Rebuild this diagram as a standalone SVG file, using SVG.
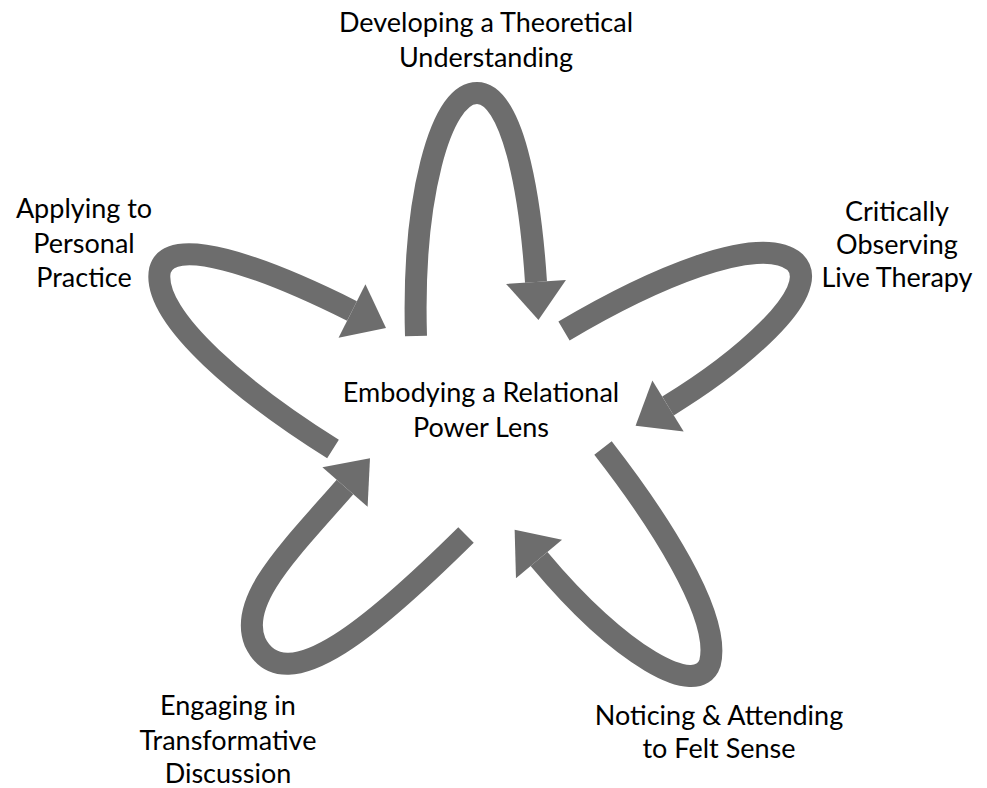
<svg xmlns="http://www.w3.org/2000/svg" width="987" height="788" viewBox="0 0 987 788">
<style>
.lbl{font-family:Lato,"Open Sans","Liberation Sans",sans-serif;font-size:27px;fill:#000;text-anchor:middle}
.loop{fill:none;stroke:#6d6d6d;stroke-width:22;stroke-linecap:butt;marker-end:url(#ah)}
</style>
<defs>
<marker id="ah" markerUnits="userSpaceOnUse" markerWidth="40" markerHeight="62" refX="0" refY="31" orient="auto" overflow="visible">
<path d="M0,1 L38,31 L0,61 Z" fill="#6d6d6d"/>
</marker>
</defs>
<rect width="987" height="788" fill="#fff"/>
<g id="connectors">
<path class="loop" d="M416,336 C412,200 440,93 477,93 C512,93 530,190 536,282"/>
<path class="loop" d="M564,331 C650,280 760,232 795,262 C825,292 735,365 668,406"/>
<path class="loop" d="M603,448 C655,515 722,615 710,663 C698,700 620,656 539,559"/>
<path class="loop" d="M466,535 C380,620 285,705 255,642 C238,600 290,550 345,487"/>
<path class="loop" d="M333,449 C250,397 150,318 160,270 C170,234 260,265 352,311"/>
</g>
<g id="center"><text class="lbl" x="481" y="402">Embodying a Relational</text><text class="lbl" x="481" y="437">Power Lens</text></g>
<g id="n-theory"><text class="lbl" x="486" y="32">Developing a Theoretical</text><text class="lbl" x="486" y="67">Understanding</text></g>
<g id="n-observe"><text class="lbl" x="897" y="221">Critically</text><text class="lbl" x="897" y="254">Observing</text><text class="lbl" x="897" y="287">Live Therapy</text></g>
<g id="n-felt"><text class="lbl" x="719" y="725">Noticing &amp; Attending</text><text class="lbl" x="719" y="758">to Felt Sense</text></g>
<g id="n-discuss"><text class="lbl" x="228" y="715">Engaging in</text><text class="lbl" x="228" y="750">Transformative</text><text class="lbl" x="228" y="783">Discussion</text></g>
<g id="n-apply"><text class="lbl" x="84" y="218">Applying to</text><text class="lbl" x="84" y="253">Personal</text><text class="lbl" x="84" y="287">Practice</text></g>
</svg>
